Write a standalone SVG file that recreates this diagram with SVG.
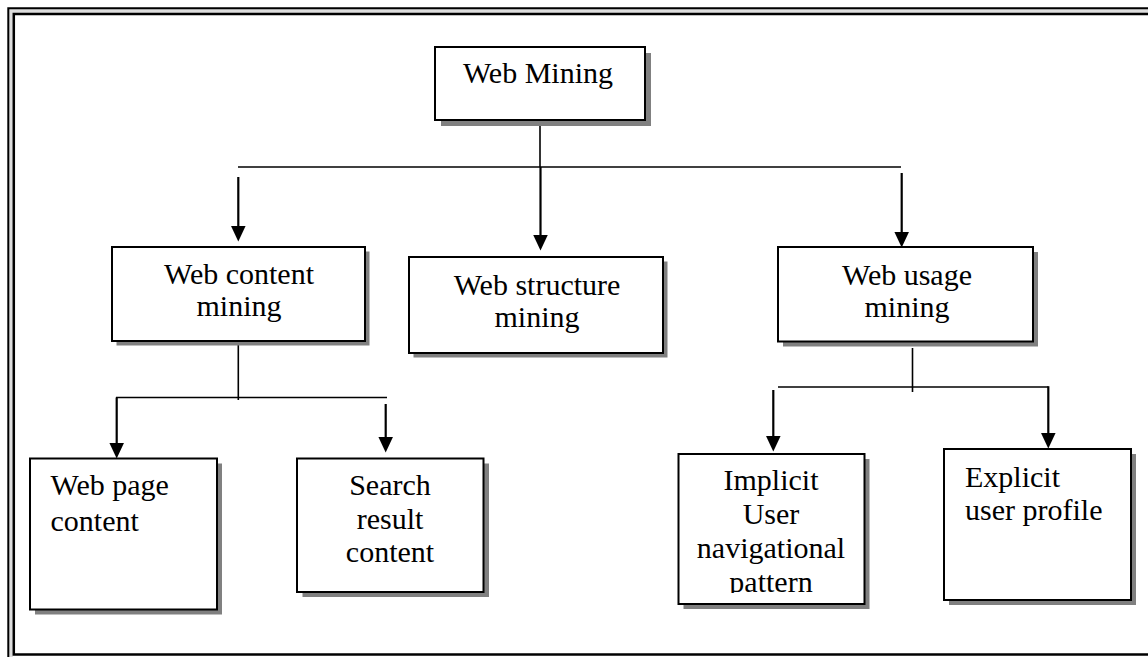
<svg xmlns="http://www.w3.org/2000/svg" width="1148" height="657" viewBox="0 0 1148 657">
  <style>
    .shadow { fill: #808080; }
    .box { fill: #ffffff; stroke: #000000; stroke-width: 2; }
    .label { font-family: "Liberation Serif", "Times New Roman", serif; font-size: 30px; fill: #000000; }
    .mid { text-anchor: middle; }
    .line { stroke: #000000; stroke-width: 1.6; fill: none; }
    .arrow { stroke: #000000; stroke-width: 2.2; fill: none; marker-end: url(#head); }
    .frame { stroke: #000000; fill: none; }
  </style>
  <defs>
    <!-- filled triangle; its base sits on the end of the shaft, tip 16px further on -->
    <marker id="head" markerWidth="16" markerHeight="15" viewBox="0 0 16 15" refX="0.5" refY="7.5" orient="auto" markerUnits="userSpaceOnUse">
      <path d="M0,0 L16,7.5 L0,15 Z" fill="#000000"/>
    </marker>
    <clipPath id="clipImplicit">
      <rect x="679" y="455" width="184" height="138"/>
    </clipPath>
  </defs>

  <rect width="1148" height="657" fill="#ffffff"/>

  <!-- page frame: double rule top/left, single rule bottom -->
  <g id="frame">
    <rect x="8" y="9" width="1140" height="4" fill="#dddddd"/>
    <rect x="9" y="9" width="4" height="648" fill="#dddddd"/>
    <polyline class="frame" stroke-width="2" points="8.3,657 8.3,8.3 1148,8.3"/>
    <polyline class="frame" stroke-width="2.5" points="1148,14 13.8,14 13.8,654.5 1148,654.5"/>
  </g>

  <!-- connectors -->
  <g id="connectors">
    <line class="line" x1="540" y1="120" x2="540" y2="167"/>
    <line class="line" x1="238" y1="167" x2="901" y2="167"/>
    <line class="arrow" x1="238.3" y1="177" x2="238.3" y2="226"/>
    <line class="arrow" x1="540.5" y1="167" x2="540.5" y2="235"/>
    <line class="arrow" x1="901.7" y1="173" x2="901.7" y2="232"/>

    <line class="line" x1="238.3" y1="341" x2="238.3" y2="400"/>
    <line class="line" x1="116" y1="397.5" x2="387" y2="397.5"/>
    <line class="arrow" x1="116.7" y1="397.5" x2="116.7" y2="443"/>
    <line class="arrow" x1="385.7" y1="404" x2="385.7" y2="437"/>

    <line class="line" x1="912.5" y1="348" x2="912.5" y2="392"/>
    <line class="line" x1="778" y1="387" x2="1048.3" y2="387"/>
    <line class="arrow" x1="773.3" y1="390" x2="773.3" y2="436"/>
    <line class="arrow" x1="1048.3" y1="386.2" x2="1048.3" y2="433"/>
  </g>

  <g id="web-mining">
    <rect class="shadow" x="441" y="53" width="210" height="73"/>
    <rect class="box" x="435" y="47" width="210" height="73"/>
    <text class="label mid" x="538" y="83">Web Mining</text>
  </g>

  <g id="web-content-mining">
    <rect class="shadow" x="116.5" y="251.5" width="253" height="94"/>
    <rect class="box" x="112" y="247" width="253" height="94"/>
    <text class="label mid" x="239" y="284">Web content</text>
    <text class="label mid" x="239" y="316">mining</text>
  </g>

  <g id="web-structure-mining">
    <rect class="shadow" x="413.5" y="261.5" width="254" height="96"/>
    <rect class="box" x="409" y="257" width="254" height="96"/>
    <text class="label mid" x="537" y="295">Web structure</text>
    <text class="label mid" x="537" y="327">mining</text>
  </g>

  <g id="web-usage-mining">
    <rect class="shadow" x="783" y="252" width="255" height="94.5"/>
    <rect class="box" x="778" y="247" width="255" height="94.5"/>
    <text class="label mid" x="907" y="285">Web usage</text>
    <text class="label mid" x="907" y="317">mining</text>
  </g>

  <g id="web-page-content">
    <rect class="shadow" x="35" y="463.5" width="187" height="151"/>
    <rect class="box" x="30" y="458.5" width="187" height="151"/>
    <text class="label" x="50.5" y="495">Web page</text>
    <text class="label" x="50.5" y="531">content</text>
  </g>

  <g id="search-result-content">
    <rect class="shadow" x="302.5" y="463.5" width="186.5" height="133.5"/>
    <rect class="box" x="297" y="458.5" width="186.5" height="133.5"/>
    <text class="label mid" x="390" y="495">Search</text>
    <text class="label mid" x="390" y="529">result</text>
    <text class="label mid" x="390" y="562">content</text>
  </g>

  <g id="implicit-user-navigational-pattern">
    <rect class="shadow" x="683.5" y="459" width="186" height="150"/>
    <rect class="box" x="678.5" y="454" width="186" height="150"/>
    <g clip-path="url(#clipImplicit)">
      <text class="label mid" x="771" y="490">Implicit</text>
      <text class="label mid" x="771" y="524">User</text>
      <text class="label mid" x="771" y="558">navigational</text>
      <text class="label mid" x="771" y="592">pattern</text>
    </g>
  </g>

  <g id="explicit-user-profile">
    <rect class="shadow" x="949" y="454" width="187" height="151"/>
    <rect class="box" x="944" y="449" width="187" height="151"/>
    <text class="label" x="965" y="487">Explicit</text>
    <text class="label" x="965" y="520">user profile</text>
  </g>
</svg>
